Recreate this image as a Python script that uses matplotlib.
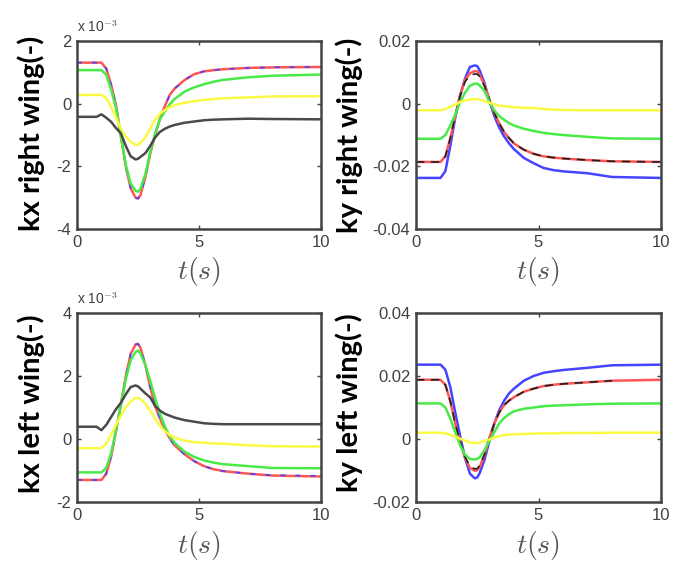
import numpy as np
import matplotlib
matplotlib.use('Agg')
import matplotlib.pyplot as plt

plt.rcParams['mathtext.fontset'] = 'cm'

t = [0, 0.8, 1.0, 1.2, 1.4, 1.6, 1.8, 2.0, 2.2, 2.4, 2.5, 2.6, 2.8, 3.0, 3.2,
     3.4, 3.6, 3.8, 4.0, 4.4, 4.8, 5.2, 5.6, 6.0, 7.0, 8.0, 10.0]

# kx right wing (x 1e-3)
kxr_red = [1.31, 1.31, 1.31, 1.12, 0.60, -0.05, -1.05, -2.00, -2.70, -3.00, -3.03, -2.92,
           -2.35, -1.60, -1.00, -0.48, -0.08, 0.28, 0.48, 0.75, 0.94, 1.03, 1.07, 1.10,
           1.14, 1.16, 1.17]
kxr_blue = [1.31, 1.31, 1.31, 1.12, 0.60, -0.05, -1.05, -2.00, -2.70, -3.00, -3.03, -2.92,
            -2.35, -1.60, -1.00, -0.48, -0.08, 0.28, 0.48, 0.75, 0.94, 1.03, 1.07, 1.10,
            1.14, 1.16, 1.17]
kxr_green = [1.07, 1.07, 1.07, 0.92, 0.45, -0.15, -1.05, -1.95, -2.55, -2.78, -2.81, -2.72,
             -2.25, -1.55, -0.95, -0.50, -0.25, -0.02, 0.15, 0.38, 0.52, 0.62, 0.70, 0.76,
             0.84, 0.89, 0.93]
kxr_yellow = [0.28, 0.28, 0.28, 0.18, -0.10, -0.45, -0.80, -1.05, -1.22, -1.31, -1.32, -1.25,
              -1.08, -0.80, -0.52, -0.32, -0.20, -0.12, -0.05, 0.03, 0.08, 0.12, 0.15, 0.17,
              0.20, 0.23, 0.24]
kxr_black = [-0.42, -0.42, -0.34, -0.45, -0.58, -0.78, -0.95, -1.35, -1.68, -1.78, -1.76, -1.70,
             -1.58, -1.35, -1.08, -0.90, -0.80, -0.73, -0.68, -0.61, -0.57, -0.53, -0.51, -0.50,
             -0.48, -0.49, -0.50]

# ky right wing
kyr_blue = [-0.0237, -0.0237, -0.0237, -0.0215, -0.0135, -0.0045, 0.0025, 0.0080, 0.0117, 0.0122,
            0.0120, 0.0106, 0.0065, 0.0008, -0.0040, -0.0077, -0.0105, -0.0127, -0.0145, -0.0173,
            -0.0190, -0.0205, -0.0212, -0.0216, -0.0222, -0.0234, -0.0237]
kyr_red = [-0.0186, -0.0186, -0.0186, -0.0168, -0.0110, -0.0040, 0.0027, 0.0075, 0.0097, 0.0104,
           0.0103, 0.0092, 0.0058, 0.0012, -0.0031, -0.0063, -0.0091, -0.0110, -0.0127, -0.0147,
           -0.0160, -0.0168, -0.0172, -0.0175, -0.0180, -0.0184, -0.0186]
kyr_black = [-0.0186, -0.0186, -0.0186, -0.0168, -0.0110, -0.0040, 0.0025, 0.0070, 0.0090, 0.0095,
             0.0094, 0.0087, 0.0055, 0.0012, -0.0031, -0.0063, -0.0091, -0.0110, -0.0127, -0.0147,
             -0.0160, -0.0168, -0.0172, -0.0175, -0.0180, -0.0184, -0.0186]
kyr_green = [-0.0112, -0.0112, -0.0112, -0.0100, -0.0070, -0.0035, 0.0005, 0.0035, 0.0057, 0.0064,
             0.0064, 0.0058, 0.0040, 0.0005, -0.0022, -0.0040, -0.0052, -0.0062, -0.0070, -0.0080,
             -0.0087, -0.0093, -0.0097, -0.0100, -0.0106, -0.0111, -0.0112]
kyr_yellow = [-0.0021, -0.0021, -0.0021, -0.0017, -0.0010, -0.0003, 0.0005, 0.0010, 0.0013, 0.0015,
              0.0015, 0.0013, 0.0008, 0.0003, -0.0002, -0.0006, -0.0008, -0.0010, -0.0011, -0.0013,
              -0.0014, -0.0017, -0.0019, -0.0020, -0.0021, -0.0021, -0.0021]

# kx left wing (x 1e-3)
kxl_red = [-1.30, -1.30, -1.30, -1.10, -0.55, 0.25, 1.10, 2.00, 2.70, 3.00, 3.02, 2.90,
           2.35, 1.65, 1.05, 0.65, 0.30, 0.02, -0.20, -0.48, -0.70, -0.86, -0.96, -1.02,
           -1.10, -1.16, -1.19]
kxl_blue = [-1.30, -1.30, -1.30, -1.10, -0.55, 0.25, 1.10, 2.00, 2.70, 3.00, 3.02, 2.90,
            2.35, 1.65, 1.05, 0.65, 0.30, 0.02, -0.20, -0.48, -0.70, -0.86, -0.96, -1.02,
            -1.10, -1.15, -1.17]
kxl_green = [-1.06, -1.06, -1.06, -0.92, -0.45, 0.30, 1.10, 1.90, 2.50, 2.76, 2.81, 2.72,
             2.35, 1.85, 1.30, 0.80, 0.40, 0.08, -0.12, -0.40, -0.57, -0.68, -0.75, -0.80,
             -0.86, -0.92, -0.93]
kxl_yellow = [-0.29, -0.29, -0.29, -0.15, 0.15, 0.45, 0.75, 1.00, 1.20, 1.30, 1.31, 1.27,
              1.12, 0.90, 0.65, 0.42, 0.25, 0.13, 0.05, -0.05, -0.10, -0.12, -0.14, -0.15,
              -0.20, -0.23, -0.24]
kxl_black = [0.39, 0.39, 0.28, 0.45, 0.70, 0.95, 1.15, 1.42, 1.65, 1.70, 1.67, 1.60,
             1.45, 1.32, 1.05, 0.90, 0.80, 0.74, 0.68, 0.60, 0.55, 0.50, 0.48, 0.47,
             0.47, 0.47, 0.47]

# ky left wing
kyl_blue = [0.0236, 0.0236, 0.0236, 0.0220, 0.0165, 0.0085, 0.0010, -0.0060, -0.0110, -0.0125,
            -0.0122, -0.0108, -0.0065, -0.0005, 0.0050, 0.0092, 0.0122, 0.0145, 0.0160, 0.0185,
            0.0200, 0.0210, 0.0215, 0.0219, 0.0226, 0.0234, 0.0236]
kyl_red = [0.0188, 0.0188, 0.0188, 0.0172, 0.0120, 0.0050, -0.0010, -0.0060, -0.0092, -0.0101,
           -0.0099, -0.0088, -0.0050, 0.0005, 0.0050, 0.0085, 0.0108, 0.0122, 0.0133, 0.0150,
           0.0160, 0.0168, 0.0172, 0.0175, 0.0180, 0.0185, 0.0188]
kyl_black = [0.0188, 0.0188, 0.0188, 0.0172, 0.0120, 0.0050, -0.0008, -0.0056, -0.0087, -0.0095,
             -0.0094, -0.0084, -0.0048, 0.0005, 0.0050, 0.0085, 0.0108, 0.0122, 0.0133, 0.0150,
             0.0160, 0.0168, 0.0172, 0.0175, 0.0180, 0.0185, np.nan]
kyl_green = [0.0113, 0.0113, 0.0113, 0.0100, 0.0065, 0.0022, -0.0020, -0.0050, -0.0063, -0.0065,
             -0.0063, -0.0058, -0.0035, -0.0005, 0.0022, 0.0050, 0.0067, 0.0079, 0.0088, 0.0096,
             0.0100, 0.0104, 0.0106, 0.0107, 0.0110, 0.0112, 0.0113]
kyl_yellow = [0.0020, 0.0020, 0.0020, 0.0018, 0.0013, 0.0007, 0.0001, -0.0005, -0.0011, -0.0013,
              -0.0013, -0.0011, -0.0006, -0.0001, 0.0004, 0.0009, 0.0012, 0.0014, 0.0015, 0.0016,
              0.0017, 0.0018, 0.0018, 0.0019, 0.0019, 0.0020, 0.0020]

RED = '#ff5555'
BLUE = '#4545ff'
GREEN = '#48ea48'
YELLOW = '#fafa45'
GRAY = '#4a4a4a'
FRAME = '#444444'
TICKC = '#404040'

fig = plt.figure(figsize=(6.81, 5.68), dpi=100)
W, H = 681.0, 568.0


def make_axes(l, r, top, bot):
    return fig.add_axes([l / W, 1 - bot / H, (r - l) / W, (bot - top) / H])


def style(ax, ylim, yticks, yticklabels):
    ax.set_xlim(0, 10)
    ax.set_ylim(*ylim)
    ax.set_xticks([0, 5, 10])
    ax.set_xticklabels(['0', '5', '10'])
    ax.set_yticks(yticks)
    ax.set_yticklabels(yticklabels)
    ax.tick_params(direction='in', length=3, width=1, color=FRAME,
                   top=True, right=True, labelsize=12, labelcolor=TICKC, pad=4)
    for lab in ax.get_xticklabels() + ax.get_yticklabels():
        lab.set_family('Liberation Sans')
    for s in ax.spines.values():
        s.set_color(FRAME)
        s.set_linewidth(1.8)


lw = 1.8

# top left: kx right wing
ax1 = make_axes(77, 321, 41, 229)
ax1.plot(t, kxr_red, color=RED, lw=lw)
ax1.plot(t, kxr_blue, color=BLUE, lw=1.2, ls=(0, (3, 6)))
ax1.plot(t, kxr_green, color=GREEN, lw=lw)
ax1.plot(t, kxr_yellow, color=YELLOW, lw=lw)
ax1.plot(t, kxr_black, color=GRAY, lw=lw)
style(ax1, (-4, 2), [-4, -2, 0, 2], ['-4', '-2', '0', '2'])
ax1.text(0.0, 1.03, r'x 10$^{-3}$', transform=ax1.transAxes, fontsize=10,
         color=TICKC, family='Liberation Sans', ha='left', va='bottom')

# top right: ky right wing
ax2 = make_axes(416, 661, 41, 229)
ax2.plot(t, kyr_blue, color=BLUE, lw=lw)
ax2.plot(t, kyr_red, color=RED, lw=lw)
ax2.plot(t, kyr_black, color='#202020', lw=1.2, ls=(0, (5, 4)))
ax2.plot(t, kyr_green, color=GREEN, lw=lw)
ax2.plot(t, kyr_yellow, color=YELLOW, lw=lw)
style(ax2, (-0.04, 0.02), [-0.04, -0.02, 0, 0.02], ['-0.04', '-0.02', '0', '0.02'])

# bottom left: kx left wing
ax3 = make_axes(77, 321, 313, 502)
ax3.plot(t, kxl_red, color=RED, lw=lw)
ax3.plot(t, kxl_blue, color=BLUE, lw=1.2, ls=(0, (3, 6)))
ax3.plot(t, kxl_green, color=GREEN, lw=lw)
ax3.plot(t, kxl_yellow, color=YELLOW, lw=lw)
ax3.plot(t, kxl_black, color=GRAY, lw=lw)
style(ax3, (-2, 4), [-2, 0, 2, 4], ['-2', '0', '2', '4'])
ax3.text(0.0, 1.03, r'x 10$^{-3}$', transform=ax3.transAxes, fontsize=10,
         color=TICKC, family='Liberation Sans', ha='left', va='bottom')

# bottom right: ky left wing
ax4 = make_axes(416, 661, 313, 502)
ax4.plot(t, kyl_blue, color=BLUE, lw=lw)
ax4.plot(t, kyl_red, color=RED, lw=lw)
ax4.plot(t, kyl_black, color='#202020', lw=1.2, ls=(0, (5, 4)))
ax4.plot(t, kyl_green, color=GREEN, lw=lw)
ax4.plot(t, kyl_yellow, color=YELLOW, lw=lw)
style(ax4, (-0.02, 0.04), [-0.02, 0, 0.02, 0.04], ['-0.02', '0', '0.02', '0.04'])

# y labels
ylab = dict(rotation=90, ha='center', va='center', fontsize=21,
            fontweight='bold', family=['Lato', 'DejaVu Sans'], color='black')
fig.text(31 / W, 1 - 133 / H, 'kx right wing(-)', **ylab)
fig.text(349 / W, 1 - 135 / H, 'ky right wing(-)', **ylab)
fig.text(31 / W, 1 - 404 / H, 'kx left wing(-)', **ylab)
fig.text(349 / W, 1 - 403 / H, 'ky left wing(-)', **ylab)

# x labels
xlab = dict(ha='center', va='center', fontsize=20, color='#555555')
for xc, yc in [(199, 272), (538, 272), (199, 545), (538, 545)]:
    fig.text(xc / W, 1 - yc / H, r'$t(s)$', **xlab)

fig.savefig('out.png', dpi=100)
